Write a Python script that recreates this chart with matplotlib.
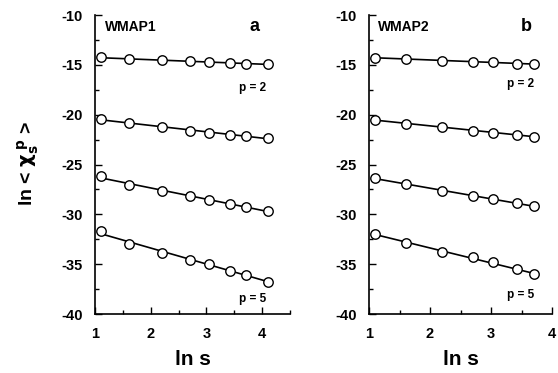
import numpy as np
import matplotlib
matplotlib.use("Agg")
import matplotlib.pyplot as plt
from matplotlib.ticker import MultipleLocator

plt.rcParams['font.family'] = ['Liberation Sans', 'DejaVu Sans']
plt.rcParams['axes.unicode_minus'] = False

# ln s values
lns_a = [1.10, 1.61, 2.20, 2.71, 3.04, 3.43, 3.71, 4.11]
lns_b = [1.10, 1.61, 2.20, 2.71, 3.04, 3.43, 3.71]

# WMAP1 (panel a), p = 2..5
a_p2 = [-14.25, -14.42, -14.55, -14.66, -14.73, -14.80, -14.87, -14.94]
a_p3 = [-20.40, -20.88, -21.25, -21.60, -21.80, -22.00, -22.14, -22.34]
a_p4 = [-26.15, -27.02, -27.68, -28.20, -28.56, -28.97, -29.24, -29.64]
a_p5 = [-31.70, -32.95, -33.86, -34.54, -34.98, -35.66, -36.10, -36.74]

# WMAP2 (panel b), p = 2..5
b_p2 = [-14.28, -14.42, -14.58, -14.68, -14.75, -14.87, -14.92]
b_p3 = [-20.50, -20.90, -21.28, -21.60, -21.80, -22.00, -22.20]
b_p4 = [-26.38, -26.98, -27.65, -28.12, -28.46, -28.90, -29.20]
b_p5 = [-31.95, -32.92, -33.75, -34.32, -34.82, -35.53, -36.03]

yticks = [-10, -15, -20, -25, -30, -35, -40]
xticks = [1, 2, 3, 4]

fig = plt.figure(figsize=(5.58, 3.73), dpi=100)
axa = fig.add_axes([95/558, 1-314/373, 195/558, 299/373])
axb = fig.add_axes([369/558, 1-314/373, 183/558, 299/373])

def draw(ax, x, series, xlim, label, letter, p2y, p5y, lx, px):
    for s in series:
        xs = np.array(x); ys = np.array(s)
        k, c = np.polyfit(xs, ys, 1)
        xx = np.array([xs[0], xs[-1]])
        ax.plot(xx, k*xx + c, color='black', lw=1.2, zorder=2)
        ax.plot(xs, ys, 'o', mfc='white', mec='black', mew=1.0, ms=6.8, zorder=3, clip_on=False)
    ax.set_xlim(*xlim)
    ax.set_ylim(-40, -10)
    ax.set_yticks(yticks)
    ax.set_xticks(xticks)
    ax.xaxis.set_minor_locator(MultipleLocator(0.5))
    ax.yaxis.set_minor_locator(MultipleLocator(2.5))
    for sp in ['top', 'right']:
        ax.spines[sp].set_visible(False)
    for sp in ['left', 'bottom']:
        ax.spines[sp].set_linewidth(1.2)
    ax.tick_params(which='major', direction='in', length=5, width=1.0, labelsize=10.5)
    ax.tick_params(which='minor', direction='in', length=3, width=1.0)
    ax.tick_params(axis='y', which='major', pad=9)
    ax.tick_params(axis='x', which='major', pad=9)
    for t in ax.get_xticklabels() + ax.get_yticklabels():
        t.set_fontweight('bold')
    ax.text(0.05, 0.96, label, transform=ax.transAxes, fontsize=10, fontweight='bold',
            va='center', ha='left')
    ax.text(lx, 0.96, letter, transform=ax.transAxes, fontsize=13, fontweight='bold',
            va='center', ha='center')
    ax.text(px, p2y, 'p = 2', transform=ax.transAxes, fontsize=8.5, fontweight='bold',
            va='center', ha='center')
    ax.text(px, p5y, 'p = 5', transform=ax.transAxes, fontsize=8.5, fontweight='bold',
            va='center', ha='center')
    ax.set_xlabel('ln s', fontsize=15, fontweight='bold', labelpad=7)

draw(axa, lns_a, [a_p2, a_p3, a_p4, a_p5], (1, 4.5), 'WMAP1', 'a', 0.755, 0.05, 0.82, 0.81)
draw(axb, lns_b, [b_p2, b_p3, b_p4, b_p5], (1, 4), 'WMAP2', 'b', 0.77, 0.063, 0.86, 0.83)

fig.text(28/558, 1-163/373, r'ln < $\mathbf{\chi}_{\mathbf{s}}^{\ \mathbf{p}}$ >', rotation=90,
         fontsize=14, fontweight='bold', va='center', ha='center')

fig.savefig('out.png', dpi=100)
